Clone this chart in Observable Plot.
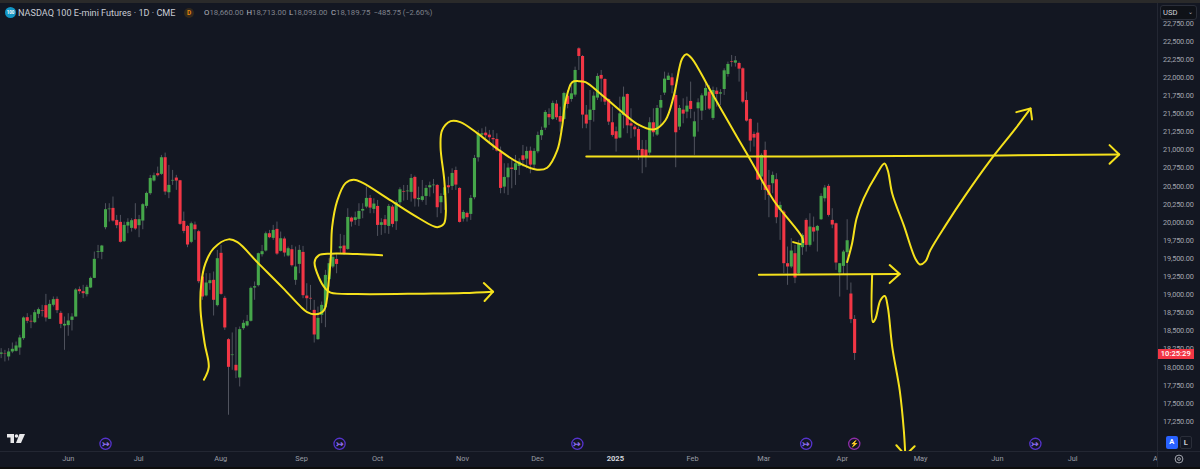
<!DOCTYPE html>
<html><head><meta charset="utf-8">
<script src="https://cdn.jsdelivr.net/npm/d3@7"></script>
<script src="https://cdn.jsdelivr.net/npm/@observablehq/plot@0.6"></script>
<style>
html,body{margin:0;padding:0;background:#131722;}
#wrap{position:relative;width:1200px;height:469px;overflow:hidden;background:#131722;font-family:Roboto,sans-serif;}
#wrap svg.main{position:absolute;left:0;top:0;display:block;}
#wrap svg.main g[aria-label="y-axis tick label"]{letter-spacing:-0.15px;}
.a{position:absolute;white-space:nowrap;}
.a svg{display:block;}
</style></head><body><div id="wrap"></div>
<script>
const open = [
18178,18185,18141,18210,18219,18265,18394,18684,18634,18615,
18730,18781,18850,18661,18855,18937,18744,18569,18574,18647,
18693,19071,19043,19002,19094,19227,19586,19586,19927,20176,
20194,20028,20001,19734,19950,19918,20038,19955,20019,20222,
20397,20572,20673,20664,20894,20410,20572,20613,20576,20015,
19945,19725,19964,19872,19246,18984,19154,19200,18850,19573,
18951,18380,18160,18026,17851,18532,18569,18634,19094,19126,
19554,19605,19844,19780,19904,19600,19771,19536,19623,19200,
19420,19586,18983,18951,18785,18380,18716,18822,19209,19384,
19489,19637,19674,19627,20060,20028,20042,20157,20212,20332,
20180,20221,19959,20037,19945,20212,20010,20272,20428,20424,
20415,20622,20313,20304,20359,20479,20507,20511,20272,20373,
20507,20497,20718,20470,20046,20125,20111,20341,20893,21206,
21234,21206,21160,21147,20962,20488,20617,20751,20718,20774,
20921,20875,20985,20792,20976,21197,21303,21492,21423,21635,
21464,21423,21745,21699,21759,22399,22293,21483,21409,21547,
21718,22031,21975,21699,21377,21253,21165,21478,21768,21363,
21317,21285,21009,21000,20958,21377,21207,21579,21787,21961,
21998,21754,21317,21552,21524,21672,21179,21570,21538,21745,
21800,21437,21814,21773,21837,22044,22219,22201,22196,22123,
21685,21423,21216,21234,20627,20995,20512,20535,20590,20166,
20143,19430,19384,19568,19292,19651,20028,19683,19927,19881,
20037,20327,20498,20028,19982,19301,19393,19582,19011,18660];
const close = [
18196,18180,18210,18247,18293,18404,18680,18634,18624,18753,
18795,18772,18680,18868,18933,18781,18592,18592,18638,18693,
19066,19043,19016,19103,19227,19490,19596,19674,20176,20185,
20019,19955,19725,19959,20001,20024,19909,20038,20245,20401,
20608,20645,20645,20894,20420,20512,20581,20572,19973,19876,
19688,19982,19899,19181,18970,19163,19195,18924,19499,19006,
18542,17998,18169,17948,18519,18606,18629,19089,19112,19568,
19596,19844,19789,19890,19563,19775,19577,19637,19402,19384,
19614,18988,18946,18942,18445,18675,18854,19268,19430,19517,
19420,19664,19568,20069,20005,20065,20152,20180,20332,20198,
20254,19959,19996,19959,20221,19973,20272,20451,20419,20433,
20608,20323,20332,20355,20470,20507,20516,20203,20359,20479,
20479,20677,20516,20000,20138,20065,20332,20884,21216,21225,
21197,21170,21142,20985,20470,20622,20751,20732,20811,20834,
20857,20981,20792,20981,21202,21271,21520,21446,21644,21446,
21386,21782,21630,21777,22100,22293,21483,21359,21552,21745,
22017,21980,21662,21386,21202,21151,21501,21731,21335,21331,
21280,20995,20907,20898,21377,21239,21575,21685,21980,22021,
21888,21239,21575,21497,21607,21561,21391,21653,21750,21851,
21566,21823,21768,21791,22095,22183,22210,22233,22118,21662,
21400,21124,21165,20585,20926,20442,20373,20650,20065,20235,
19430,19384,19605,19232,19706,19821,19683,19936,19867,19945,
20360,20475,20097,19964,19439,19430,19591,19747,18657,18189.75];
const high = [
18256,18233,18256,18334,18348,18440,18694,18740,18717,18786,
18818,18855,19006,18924,18970,18970,18772,18693,18739,18739,
19085,19108,19131,19131,19246,19591,19683,19683,20259,20259,
20351,20097,20097,20005,20051,20051,20259,20097,20259,20420,
20650,20682,20765,20926,20958,20788,20719,20650,20581,20143,
19959,20005,20005,19890,19292,19292,19292,19315,19614,19683,
18979,18394,18473,18546,18555,18647,18716,19108,19177,19577,
19683,19867,19890,19959,20005,19867,19798,19660,19683,19660,
19683,19669,19153,19130,18923,18831,18900,19338,19499,19568,
19568,19835,19821,20189,20074,20143,20258,20258,20488,20373,
20327,20304,20051,20097,20249,20235,20304,20479,20511,20511,
20663,20640,20488,20580,20511,20557,20594,20525,20396,20511,
20626,20741,20764,20479,20166,20143,20373,20926,21271,21294,
21317,21271,21271,21225,21041,20811,20811,20857,20926,20880,
21064,21041,21041,21018,21248,21317,21547,21570,21676,21685,
21593,21800,21823,21893,22146,22413,22307,21616,21823,21800,
22054,22100,21985,21708,21593,21317,21731,21870,21777,21570,
21340,21317,21133,21133,21446,21570,21616,21754,22077,22063,
22054,21870,21616,21708,21731,21939,21524,21708,21777,21916,
21893,21870,21860,21833,22123,22215,22307,22293,22215,22136,
21800,21432,21248,21372,20949,21110,20719,20696,20673,20281,
20166,19660,19775,19683,19752,19844,20051,20120,20074,19959,
20396,20511,20525,20189,19991,19430,19614,20037,19163,18713];
const low = [
18118,18072,18086,18187,18210,18164,18371,18601,18532,18601,
18670,18693,18624,18661,18832,18740,18532,18233,18427,18500,
18693,19006,18947,18970,19085,19223,19499,19485,19899,20005,
20005,19913,19715,19725,19844,19867,19890,19789,19899,20189,
20374,20558,20627,20650,20374,20328,20512,20443,19959,19844,
19651,19706,19752,19154,18924,18970,19062,18707,18832,18993,
18509,17336,17957,17842,17727,18509,18555,18624,18924,19108,
19522,19591,19775,19752,19545,19591,19522,19522,19384,19131,
19291,18946,18785,18785,18334,18371,18601,18546,19107,19361,
19291,19568,19545,19614,19936,19959,19945,20051,20189,20120,
20120,19807,19821,19844,19835,19927,19890,20235,20295,20304,
20281,20212,20212,20281,20235,20350,20396,20065,20120,20166,
20396,20442,20442,19991,20005,20005,20028,20313,20834,21179,
21156,21087,20995,20972,20396,20396,20373,20465,20511,20649,
20764,20741,20672,20741,20949,21133,21271,21340,21409,21409,
21248,21409,21570,21662,21731,22100,21294,21294,20995,21386,
21685,21662,21616,21340,21179,20972,21156,21294,21225,21156,
21179,20857,20673,20756,20926,21179,21188,21317,21754,21961,
21777,20756,21271,21363,21432,21432,20926,21248,21409,21547,
21547,21409,21593,21616,21754,22008,22146,22146,21939,21639,
21386,20972,21041,20581,20442,20304,20065,20396,19982,19752,
19292,19131,19361,19154,19269,19545,19591,19660,19729,19591,
20028,20281,20074,19913,19338,18969,19269,19062,18601,18093];

const priceTicks = [22750,22500,22250,22000,21750,21500,21250,21000,20750,20500,20250,20000,19750,19500,19250,19000,18750,18500,18250,18000,17750,17500,17250];
const monthIdx = [18,36.9,58.9,80.6,101,123.8,143.9,185.5,204.6,225.7,246.7,267.3,287.5,310.8];
const monthLabels = ["Jun","Jul","Aug","Sep","Oct","Nov","Dec","Feb","Mar","Apr","May","Jun","Jul","Aug"];
const yearIdx = [164.8];
const yearLabels = ["2025"];
const dividendIdx = [28,90.8,154.6,216,277.5];
const earningsIdx = [228.9];
const iconPrice = 16941;

// Hand-drawn yellow strokes as [bar index, price]
const waveStroke = [[54.4,17828],[55.7,18002],[54.6,18329],[53.5,18785],[53.7,19158],[54.8,19434],[57,19641],[61,19766],[63.4,19728],[68.7,19452],[75.7,19089],[80.3,18840],[82.1,18762],[84.3,18730],[86.6,18785],[87.9,19199],[88.5,19568],[88.8,19935],[90.2,20304],[92.4,20543],[94.6,20590],[96.9,20549],[104.5,20304],[111.6,20074],[117,19935],[118.8,19982],[119.3,20121],[118.9,20580],[117.9,21040],[118.3,21271],[120.6,21399],[123.2,21386],[127.7,21234],[133.1,21018],[138.5,20833],[143.8,20728],[146.5,20756],[149.2,20995],[150.5,21316],[151.4,21662],[153.2,21938],[155,21952],[156.8,21938],[160.8,21778],[167.1,21502],[170.6,21363],[175.1,21285],[178.2,21409],[180.5,21754],[182.7,22261],[183.9,22325],[185.4,22261],[190.3,21823],[197.5,21178],[201.9,20788],[207.3,20304],[214.9,19797],[215.2,19728]];
const tickStroke = [[212.5,19728],[214.5,19700]];
const loopStroke = [[102.2,19545],[95.5,19563],[88.4,19568],[85.2,19545],[84.1,19452],[85.2,19245],[87,19085],[88.4,19030],[95.5,19010],[113.4,19016],[124.1,19024],[132,19043]];
const loopHead = [[129.5,19162],[132,19043],[129.7,18914]];
const topLine = [[157,20912],[214.5,20912],[268.1,20926],[300,20939]];
const topHead = [[297.4,21068],[300,20939],[297.4,20811]];
const upStroke = [[227,19452],[228.3,19706],[229.5,20051],[231.4,20328],[235,20673],[237,20815],[237.9,20719],[239.1,20397],[242.2,19959],[245.3,19499],[246.5,19420],[248,19462],[249.3,19614],[253.4,19959],[258.7,20373],[265.4,20857],[272.2,21299],[276.2,21575]];
const upHead = [[272.4,21524],[276.2,21575],[276.6,21423]];
const midLine = [[203.3,19278],[241.1,19286]];
const midHead = [[238.4,19411],[241.1,19286],[238.4,19162]];
const downStroke = [[233.7,19278],[233.9,18624],[234.6,18670],[235.9,18923],[237.1,18983],[237.9,18831],[239.1,18278],[241.1,17680],[242.2,17128],[242.6,16783]];
const downHead = [[240.2,16921],[242.6,16783],[245.1,16907]];

const GREEN="#45a64a", RED="#f23645", WICK="#50535e", YELLOW="#f5e11c";
const bars = open.map((o,i)=>({i,o,c:close[i],h:high[i],l:low[i]}));
const pen = (arr,curve)=>Plot.line(arr,{x:d=>d[0],y:d=>d[1],stroke:YELLOW,strokeWidth:2,curve,clip:true});

const chart = Plot.plot({
  width:1200,height:469,
  marginLeft:0,marginRight:43,marginTop:3,marginBottom:18,
  style:{background:"transparent",fontFamily:"Roboto,sans-serif",overflow:"visible"},
  x:{type:"linear",domain:[0,310],range:[0.67,1156]},
  y:{type:"linear",domain:[16835,23025],range:[451,3]},
  marks:[
    Plot.ruleX(bars,{x:"i",y1:"l",y2:"h",stroke:WICK,strokeWidth:1,clip:true}),
    Plot.ruleX(bars,{x:"i",y1:"o",y2:"c",stroke:d=>d.c>=d.o?GREEN:RED,strokeWidth:3.1,clip:true}),
    pen(waveStroke,"catmull-rom"),pen(tickStroke,"linear"),
    pen(loopStroke,"catmull-rom"),pen(loopHead,"linear"),
    pen(topLine,"linear"),pen(topHead,"linear"),
    pen(upStroke,"catmull-rom"),pen(upHead,"linear"),
    pen(midLine,"linear"),pen(midHead,"linear"),
    pen(downStroke,"catmull-rom"),pen(downHead,"linear"),
    Plot.dot(dividendIdx,{x:d=>d,y:()=>iconPrice,r:5.6,stroke:"#5533cc",strokeWidth:1.3,fill:"#131722"}),
    Plot.text(dividendIdx,{x:d=>d,y:()=>iconPrice,text:()=>"↣",fill:"#8f6cf0",fontSize:9,fontWeight:"bold"}),
    Plot.dot(earningsIdx,{x:d=>d,y:()=>iconPrice,r:5.6,stroke:"#8e2da8",strokeWidth:1.3,fill:"#131722"}),
    Plot.text(earningsIdx,{x:d=>d,y:()=>iconPrice,text:()=>"⚡",fill:"#c23bd6",fontSize:7}),
    Plot.axisY({anchor:"right",ticks:priceTicks,tickSize:0,tickPadding:5.5,tickFormat:d3.format(",.2f"),label:null,fontSize:7.3,fill:"#a3a6af"}),
    Plot.axisX({anchor:"bottom",ticks:monthIdx,tickSize:0,tickPadding:4,label:null,tickFormat:d=>monthLabels[monthIdx.indexOf(d)],fontSize:7.4,fill:"#9a9da6"}),
    Plot.axisX({anchor:"bottom",ticks:yearIdx,tickSize:0,tickPadding:4,label:null,tickFormat:d=>yearLabels[yearIdx.indexOf(d)],fontSize:7.6,fontWeight:"bold",fill:"#d1d4dc"})
  ]
});
chart.classList.add("main");
const wrap=document.getElementById("wrap");
wrap.appendChild(chart);

function add(html,css){const d=document.createElement("div");d.className="a";d.style.cssText=css;d.innerHTML=html;wrap.appendChild(d);return d;}
// panels
add("", "left:0;top:0;width:1200px;height:3px;background:#2a2a2a");
add("", "left:0;top:467px;width:1200px;height:2px;background:#0d0d0d");
add("", "left:0;top:451px;width:1200px;height:1px;background:#232733");
add("", "left:1157px;top:3px;width:1px;height:464px;background:#232733");
add("", "left:1158px;top:452px;width:42px;height:15px;background:#131722");
// legend
add("100","left:5px;top:7px;width:11px;height:11px;line-height:11px;border-radius:50%;background:#1295c4;color:#fff;font-size:4.5px;font-weight:bold;text-align:center");
add("NASDAQ 100 E-mini Futures · 1D · CME","left:18px;top:6.5px;font-size:9.1px;line-height:12px;color:#c9ccd4");
add("D","left:184px;top:7.5px;width:10px;height:10px;line-height:10px;border-radius:50%;background:#33291c;color:#e5860f;font-size:6.5px;font-weight:bold;text-align:center");
const lbl=(x,k,v)=>add(`<span style="color:#b5b8c0">${k}</span>${v}`,`left:${x}px;top:6.5px;font-size:7.8px;line-height:12px;color:#80838d`);
lbl(204,"O","18,660.00");lbl(246.5,"H","18,713.00");lbl(289,"L","18,093.00");lbl(331,"C","18,189.75");
add("−485.75 (−2.60%)","left:373.5px;top:6.5px;font-size:7.5px;line-height:12px;color:#80838d");
// USD button
add("USD<span style=\"position:absolute;right:3px;top:-1px;font-size:6px;color:#b5b8c0\">⌄</span>","left:1160px;top:5px;width:37px;height:15px;box-sizing:border-box;padding-left:2px;line-height:13px;font-size:7.6px;color:#d1d4dc;background:#0f1218;border:1px solid #2a2e39;border-radius:3px");
// countdown
add("10:25:29","left:1158px;top:349px;width:35.5px;height:10px;line-height:10px;background:#f23645;color:#fff;font-size:7.6px;font-weight:500;text-align:center");
// A / L buttons
add("A","left:1166px;top:436px;width:11.5px;height:12.5px;line-height:12.5px;border-radius:2px;background:#2962ff;color:#fff;font-size:7.5px;font-weight:bold;text-align:center");
add("L","left:1180px;top:436px;width:11.5px;height:12.5px;box-sizing:border-box;line-height:11px;border-radius:2px;border:1px solid #2a2e39;background:#131722;color:#c9ccd4;font-size:7.5px;font-weight:bold;text-align:center");
// settings gear
add('<svg width="10" height="10" viewBox="0 0 10 10"><circle cx="5" cy="5" r="3.9" fill="none" stroke="#a3a6af" stroke-width="1"/><circle cx="5" cy="5" r="1.4" fill="none" stroke="#a3a6af" stroke-width="0.9"/></svg>',"left:1174px;top:454px;width:10px;height:10px");
// TV logo
add('<svg width="18" height="9" viewBox="0 0 36 18"><path d="M0 0H14V18H7V7H0Z" fill="#e8e8ea"/><circle cx="19" cy="4" r="3.6" fill="#e8e8ea"/><path d="M25 0H36L28 18H18Z" fill="#e8e8ea"/></svg>',"left:6.5px;top:434px;width:18px;height:9px");
</script></body></html>
